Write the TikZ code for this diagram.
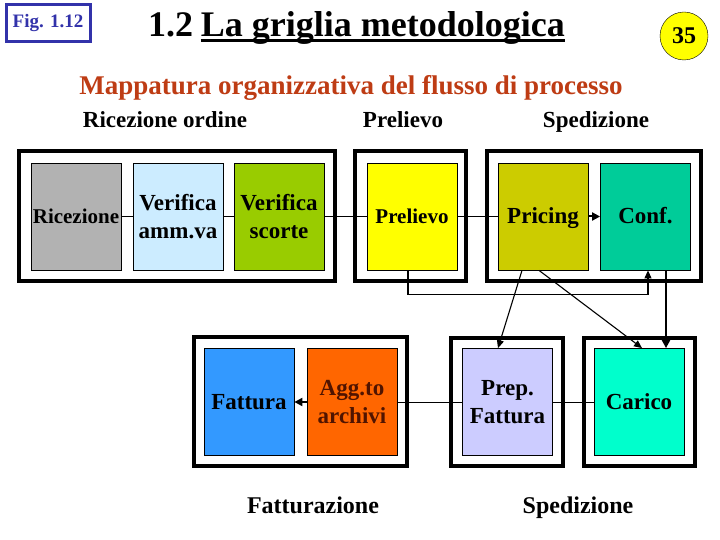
\documentclass[tikz,border=0pt]{standalone}
\usepackage{fontspec}
\setmainfont{Liberation Serif}
\usetikzlibrary{arrows.meta}
\definecolor{figblue}{RGB}{50,50,170}
\definecolor{maptitle}{RGB}{190,60,20}
\definecolor{ricgray}{RGB}{178,178,178}
\definecolor{ammblue}{RGB}{204,236,255}
\definecolor{scogreen}{RGB}{153,204,0}
\definecolor{preyellow}{RGB}{255,255,0}
\definecolor{priolive}{RGB}{204,204,0}
\definecolor{conteal}{RGB}{0,204,153}
\definecolor{fatblue}{RGB}{51,153,255}
\definecolor{aggorange}{RGB}{255,102,0}
\definecolor{pfalilac}{RGB}{204,204,255}
\definecolor{caraqua}{RGB}{0,255,204}
\tikzset{
  stage/.style={draw=black, line width=0.8pt, minimum width=90pt, minimum height=107pt,
    inner sep=0pt, align=center, font=\fontsize{23}{28}\bfseries\selectfont},
  oneline/.style={text height=15pt, text depth=0pt},
  frame/.style={line width=4pt},
  link/.style={line width=0.9pt},
  flow/.style={line width=1.1pt, -{Triangle[length=8pt,width=7pt]}},
  bigflow/.style={line width=2pt, -{Triangle[length=8pt,width=8pt]}},
  head/.style={inner sep=0pt, font=\fontsize{23}{26}\bfseries\selectfont}
}
\begin{document}
\begin{tikzpicture}[x=1pt, y=-1pt]
\useasboundingbox (0,0) rectangle (720,540);
%%% Header: figure tag, title and page number
\node[draw=figblue, line width=3pt, minimum width=84pt, minimum height=37pt, inner sep=0pt,
  text=figblue, font=\fontsize{19}{20}\bfseries\selectfont] (fig) at (48,23.5) {Fig. 1.12};
\node[anchor=base west, inner sep=0pt, font=\fontsize{36}{40}\bfseries\selectfont] (num) at (148,37) {1.2};
\node[anchor=base east, inner sep=0pt, font=\fontsize{36}{40}\bfseries\selectfont] (title) at (565,37) {La griglia metodologica};
\draw[line width=3pt] ([yshift=-4pt]title.base west) -- ([yshift=-4pt]title.base east);
\node[circle, draw=black, fill=preyellow, minimum size=48pt, inner sep=0pt,
  font=\fontsize{24}{26}\bfseries\selectfont] (page) at (684,36) {35};
%%% Subtitle and phase names
\node[anchor=base, inner sep=0pt, text=maptitle, font=\fontsize{27}{30}\bfseries\selectfont] (map) at (351,95)
  {Mappatura organizzativa del flusso di processo};
\node[head, anchor=base] (hric) at (165,128) {Ricezione ordine};
\node[head, anchor=base] (hpre) at (403,128) {Prelievo};
\node[head, anchor=base] (hspe) at (596,128) {Spedizione};
%%% Frames of the phases
\draw[frame] (19,151) rectangle (335,281);
\draw[frame] (355,151) rectangle (466,281);
\draw[frame] (487,151) rectangle (701,281);
\draw[frame] (194,337) rectangle (407,466);
\draw[frame] (451,338) rectangle (563,466);
\draw[frame] (584,338) rectangle (695,466);
%%% Activities, first row
\node[stage, oneline, fill=ricgray, font=\fontsize{21}{24}\bfseries\selectfont] (ric) at (76,216.5) {Ricezione};
\node[stage, fill=ammblue] (amm) at (178,216.5) {Verifica\\amm.va};
\node[stage, fill=scogreen] (sco) at (279,216.5) {Verifica\\scorte};
\node[stage, oneline, fill=preyellow, font=\fontsize{21}{24}\bfseries\selectfont] (pre) at (412,216.5) {Prelievo};
\node[stage, oneline, fill=priolive] (pri) at (543,216.5) {Pricing};
\node[stage, oneline, fill=conteal] (con) at (645.5,216.5) {Conf.};
%%% Activities, second row
\node[stage, oneline, fill=fatblue] (fat) at (249,402) {Fattura};
\node[stage, fill=aggorange, text={rgb,255:red,80;green,20;blue,0}] (agg) at (352,402) {Agg.to\\archivi};
\node[stage, fill=pfalilac] (pfa) at (507.5,402) {Prep.\\Fattura};
\node[stage, oneline, fill=caraqua] (car) at (639,402) {Carico};
%%% Bottom phase names
\node[head, anchor=base, font=\fontsize{24}{26}\bfseries\selectfont] (hfat) at (313,513) {Fatturazione};
\node[head, anchor=base, font=\fontsize{24}{26}\bfseries\selectfont] (hspb) at (578,513) {Spedizione};
%%% Plain links along the flow
\draw[link] (ric) -- (amm);
\draw[link] (amm) -- (sco);
\draw[link] (sco) -- (pre);
\draw[link] (pre) -- (pri);
\draw[link] (agg) -- (pfa);
\draw[link] (pfa) -- (car);
%%% Arrows
\draw[bigflow] (pri) -- (con);
\draw[bigflow] (agg) -- (fat);
\draw[flow] ([xshift=-4pt]pre.south) -- ++(0,24) -| ([xshift=2.5pt]con.south);
\draw[flow] ([xshift=-21pt]pri.south) -- ([xshift=-9.5pt]pfa.north);
\draw[flow] ([xshift=-4pt]pri.south) -- ([xshift=3pt]car.north);
\draw[bigflow] ([xshift=20.5pt]con.south) -- ([xshift=27pt]car.north);
\end{tikzpicture}
\end{document}
